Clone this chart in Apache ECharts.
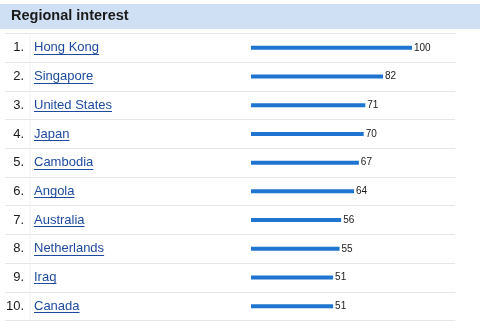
<!DOCTYPE html>
<html><head><meta charset="utf-8">
<script src="https://cdn.jsdelivr.net/npm/echarts@6/dist/echarts.min.js"></script>
<style>html,body{margin:0;padding:0;background:#fff}#c{width:480px;height:322px}</style>
</head><body><div id="c"></div>
<script>
const titleText = "Regional interest";
const regions = ["Hong Kong","Singapore","United States","Japan","Cambodia","Angola","Australia","Netherlands","Iraq","Canada"];
const ranks = ["1.","2.","3.","4.","5.","6.","7.","8.","9.","10."];
const interest = [100,82,71,70,67,64,56,55,51,51];

const FONT = "Liberation Sans, Arial, Helvetica, sans-serif";
const LINK = "#1d4a9e";
const chart = echarts.init(document.getElementById('c'), null, {renderer:'canvas'});
const gridLeft = 5, gridRight = 25, gridTop = 33.5, rowH = 28.7;
const pxPerUnit = 1.61, zeroX = 251;
const gw = 480 - gridLeft - gridRight;
const xmin = -(zeroX - gridLeft) / pxPerUnit;
const xmax = (gw - (zeroX - gridLeft)) / pxPerUnit;
const NAME_SIZE = 13;

const baseGraphic = [
  {type:'rect',shape:{x:0,y:4,width:480,height:25},style:{fill:'#cfe0f5'},z:-1},
  {type:'line',shape:{x1:30,y1:gridTop,x2:30,y2:gridTop+rowH*regions.length},style:{stroke:'#f0f0f0',lineWidth:1}}
];

chart.setOption({
  animation:false,
  title:{text:titleText,left:11,top:9,padding:0,textStyle:{fontFamily:FONT,fontSize:14.5,fontWeight:'bold',color:'#1a1a1a',lineHeight:14}},
  grid:{left:gridLeft,right:gridRight,top:gridTop,height:rowH*regions.length,containLabel:false},
  xAxis:{type:'value',min:xmin,max:xmax,show:false},
  yAxis:[
    {type:'category',data:regions,inverse:true,axisLine:{show:false},axisTick:{show:false},
     splitLine:{show:true,lineStyle:{color:'#e6e6e6',width:1}},
     axisLabel:{inside:true,margin:29,align:'left',fontFamily:FONT,fontSize:NAME_SIZE,color:LINK}},
    {type:'category',data:ranks,inverse:true,position:'left',axisLine:{show:false},axisTick:{show:false},
     splitLine:{show:false},
     axisLabel:{inside:true,margin:19,align:'right',fontFamily:FONT,fontSize:NAME_SIZE,color:'#1a1a1a'}}
  ],
  graphic:baseGraphic,
  series:[{type:'bar',data:interest,barWidth:4,itemStyle:{color:'#1f74cf'},
    label:{show:true,position:'right',distance:2,fontFamily:FONT,fontSize:10,color:'#1a1a1a'}}]
});

// underlines for link-style region names
const ctx = document.createElement('canvas').getContext('2d');
ctx.font = NAME_SIZE + "px " + FONT;
const extra = regions.map((r)=>{
  const y = chart.convertToPixel({yAxisIndex:0}, r);
  const w = ctx.measureText(r).width;
  const uy = Math.round(y+6)+0.5;
  return {type:'line',shape:{x1:34,y1:uy,x2:34+w,y2:uy},style:{stroke:LINK,lineWidth:1}};
});
chart.setOption({graphic:baseGraphic.concat(extra)},{replaceMerge:['graphic']});
</script></body></html>
